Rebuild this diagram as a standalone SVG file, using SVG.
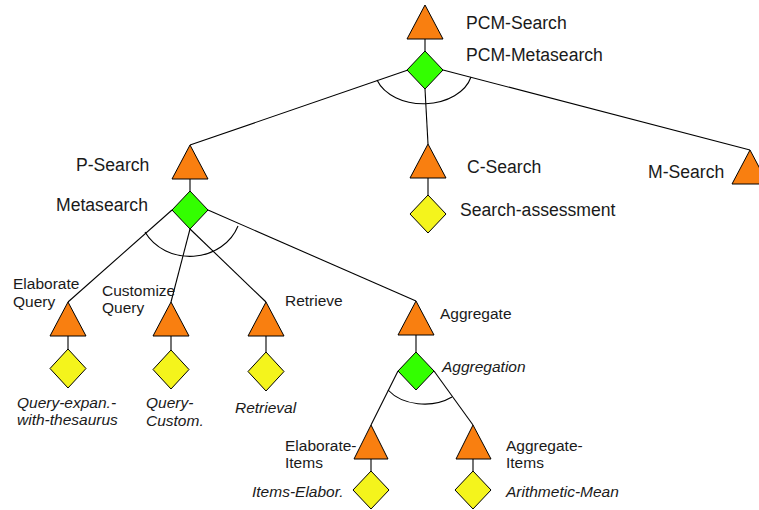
<svg xmlns="http://www.w3.org/2000/svg" width="759" height="510" viewBox="0 0 759 510">
<style>
text{font-family:"Liberation Sans",Arial,sans-serif;fill:#1a1a1a}
.l{font-size:17.6px}
.s{font-size:15.5px}
.i{font-size:15.5px;font-style:italic}
.tri{fill:#F97F10;stroke:#000;stroke-width:1}
.gd{fill:#33FF00;stroke:#000;stroke-width:1}
.yd{fill:#F4F41C;stroke:#000;stroke-width:1}
.c{fill:none;stroke:#000;stroke-width:1.1}
</style>
<rect width="759" height="510" fill="#fff"/>
<g id="connectors">
<line class="c" x1="425" y1="39" x2="425" y2="51"/>
<line class="c" x1="408" y1="70" x2="190" y2="145"/>
<line class="c" x1="425" y1="89" x2="428" y2="144"/>
<line class="c" x1="443" y1="70" x2="750" y2="150"/>
<path class="c" d="M377,80 A49,35 0 0 0 471,77"/>
<line class="c" x1="428" y1="178" x2="428" y2="195"/>
<line class="c" x1="190" y1="179" x2="190" y2="191"/>
<line class="c" x1="172" y1="210" x2="68" y2="302"/>
<line class="c" x1="190" y1="229" x2="171" y2="302"/>
<line class="c" x1="190" y1="229" x2="266" y2="302"/>
<line class="c" x1="208" y1="210" x2="416" y2="301"/>
<path class="c" d="M145,232 A51,46 0 0 0 238,226"/>
<line class="c" x1="68" y1="336" x2="68" y2="349"/>
<line class="c" x1="171" y1="336" x2="171" y2="350"/>
<line class="c" x1="266" y1="336" x2="266" y2="352"/>
<line class="c" x1="416" y1="335" x2="416" y2="352"/>
<line class="c" x1="398" y1="371" x2="371" y2="425"/>
<line class="c" x1="434" y1="371" x2="473" y2="425"/>
<path class="c" d="M388,390 A44,32 0 0 0 452,397"/>
<line class="c" x1="371" y1="459" x2="371" y2="471"/>
<line class="c" x1="473" y1="459" x2="473" y2="471"/>
</g>
<g id="pcm-search"><polygon class="tri" points="425,5 407,39 443,39"/><text class="l" x="466" y="29">PCM-Search</text></g>
<g id="pcm-metasearch"><polygon class="gd" points="425,51 443,70 425,89 407,70"/><text class="l" x="466" y="61">PCM-Metasearch</text></g>
<g id="p-search"><polygon class="tri" points="190,145 172,179 208,179"/><text class="l" x="76" y="171">P-Search</text></g>
<g id="metasearch"><polygon class="gd" points="190,191 208,210 190,229 172,210"/><text class="l" x="56" y="211">Metasearch</text></g>
<g id="c-search"><polygon class="tri" points="428,144 410,178 446,178"/><text class="l" x="467" y="173">C-Search</text></g>
<g id="search-assessment"><polygon class="yd" points="428,195 446,214 428,233 410,214"/><text class="l" x="460" y="216">Search-assessment</text></g>
<g id="m-search"><polygon class="tri" points="750,150 732,184 768,184"/><text class="l" x="648" y="178">M-Search</text></g>
<g id="elaborate-query"><polygon class="tri" points="68,302 50,336 86,336"/><text class="s" x="13" y="289">Elaborate</text><text class="s" x="13" y="307">Query</text></g>
<g id="query-expansion"><polygon class="yd" points="68,349 86,368.5 68,388 50,368.5"/><text class="i" x="17" y="408">Query-expan.-</text><text class="i" x="17" y="425">with-thesaurus</text></g>
<g id="customize-query"><polygon class="tri" points="171,302 153,336 189,336"/><text class="s" x="102" y="296">Customize</text><text class="s" x="102" y="313">Query</text></g>
<g id="query-custom"><polygon class="yd" points="171,350 189,369.5 171,389 153,369.5"/><text class="i" x="146" y="408">Query-</text><text class="i" x="146" y="426">Custom.</text></g>
<g id="retrieve"><polygon class="tri" points="266,302 248,336 284,336"/><text class="s" x="285" y="306">Retrieve</text></g>
<g id="retrieval"><polygon class="yd" points="266,352 284,371.5 266,391 248,371.5"/><text class="i" x="235" y="413">Retrieval</text></g>
<g id="aggregate"><polygon class="tri" points="416,301 398,335 434,335"/><text class="s" x="440" y="319">Aggregate</text></g>
<g id="aggregation"><polygon class="gd" points="416,352 434,371 416,390 398,371"/><text class="i" x="442" y="372">Aggregation</text></g>
<g id="elaborate-items"><polygon class="tri" points="371,425 354,459 388,459"/><text class="s" x="285" y="451">Elaborate-</text><text class="s" x="285" y="468">Items</text></g>
<g id="items-elabor"><polygon class="yd" points="371,471 389,490 371,509 353,490"/><text class="i" x="252" y="497">Items-Elabor.</text></g>
<g id="aggregate-items"><polygon class="tri" points="473,425 456,459 491,459"/><text class="s" x="506" y="451">Aggregate-</text><text class="s" x="506" y="468">Items</text></g>
<g id="arithmetic-mean"><polygon class="yd" points="473,471 491,490 473,509 455,490"/><text class="i" x="506" y="497">Arithmetic-Mean</text></g>
</svg>
